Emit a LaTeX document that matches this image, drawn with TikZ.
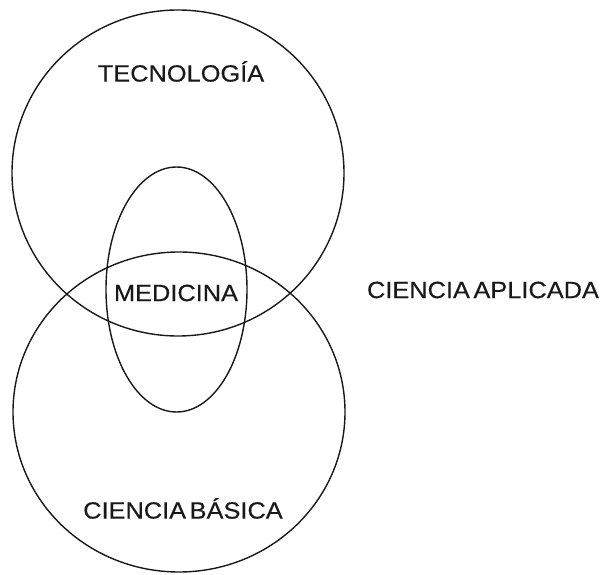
\documentclass[tikz,border=0pt]{standalone}
\usepackage{fontspec}
\setmainfont[FakeStretch=1.08,FakeBold=0.4]{Liberation Sans}
\begin{document}
\begin{tikzpicture}[x=1pt,y=-1pt,
  shape line/.style={draw=black!90, line width=1.4pt},
  label/.style={font=\fontsize{23.5}{26}\selectfont, inner sep=0pt, text=black!90}]
\useasboundingbox (0,0) rectangle (606,575);
\draw[shape line] (178,173) ellipse [x radius=166, y radius=163];
\draw[shape line] (179,412) ellipse [x radius=166, y radius=160];
\draw[shape line] (176.5,289.5) ellipse [x radius=70.5, y radius=122.5];
\node[label] (tec) at (181,71.5) {TECNOLOGÍA};
\node[label] (med) at (176,293) {MEDICINA};
\node[label] (bas) at (183,508.5) {CIENCIA\hspace{0.15em}BÁSICA};
\node[label] (apl) at (483,290) {CIENCIA\hspace{0.15em}APLICADA};
\end{tikzpicture}
\end{document}
